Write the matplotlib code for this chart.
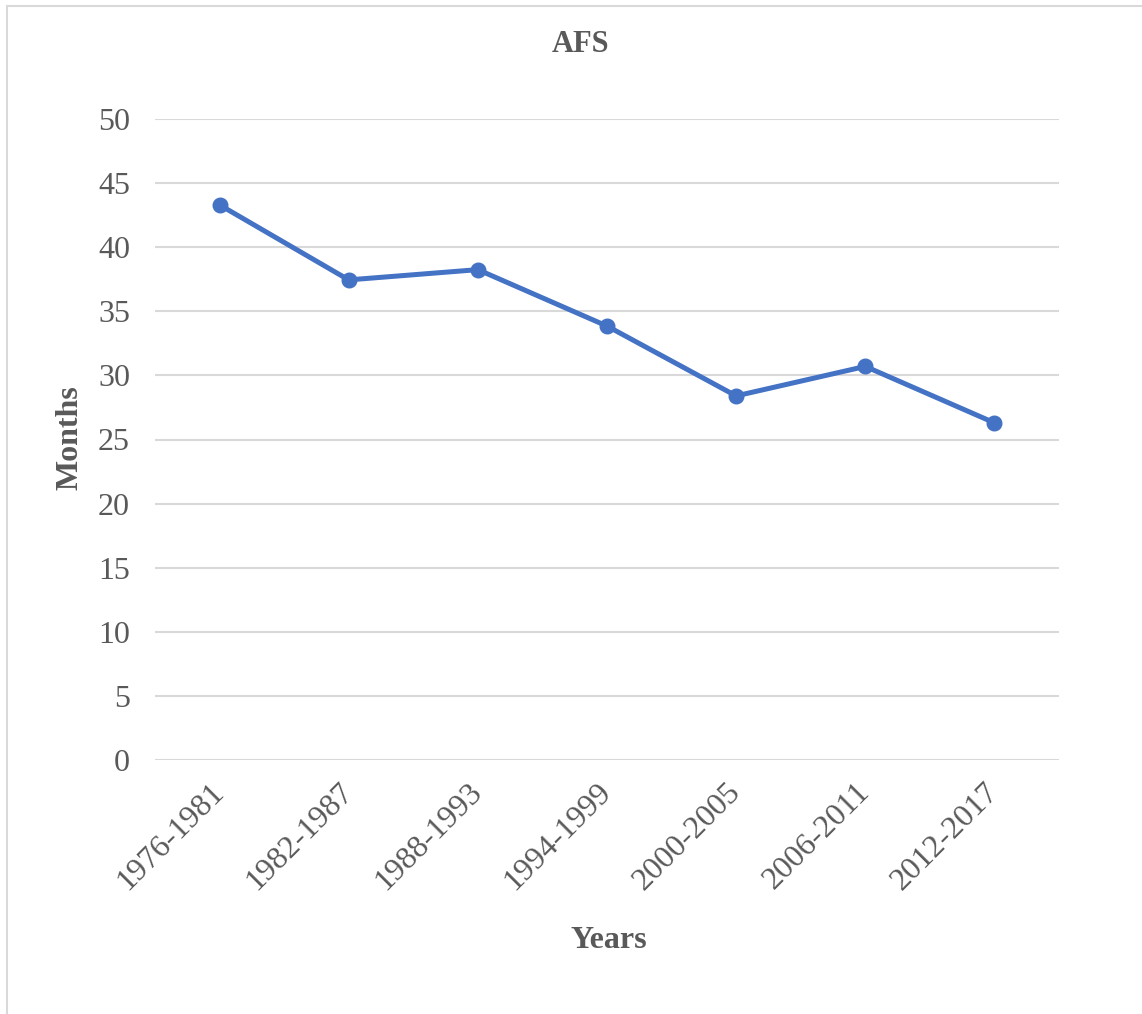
import matplotlib
matplotlib.use("Agg")
import matplotlib.pyplot as plt
from matplotlib.patches import Rectangle

# ---- data ----
periods = ["1976-1981", "1982-1987", "1988-1993", "1994-1999",
           "2000-2005", "2006-2011", "2012-2017"]
months = [43.3, 37.45, 38.25, 33.85, 28.4, 30.7, 26.3]
yticks = [0, 5, 10, 15, 20, 25, 30, 35, 40, 45, 50]

TXT = "#595959"
GRID = "#d9d9d9"
BLUE = "#4472C4"
plt.rcParams["font.family"] = ["Liberation Serif", "DejaVu Serif"]

W, H = 1142, 1014
fig = plt.figure(figsize=(W / 100, H / 100), dpi=100)
fig.patch.set_facecolor("white")
# chart area border (light gray, cut at right/bottom)
fig.patches.append(Rectangle((7 / W, -0.01), 1.2, 1 - 6 / H + 0.01, transform=fig.transFigure,
                             fill=False, edgecolor=GRID, linewidth=1.5))

ax = fig.add_axes([155 / W, 1 - 760 / H, (1059 - 155) / W, (760 - 119) / H])
x = list(range(len(periods)))
ax.plot(x, months, color=BLUE, linewidth=3.6, marker="o", markersize=10.5,
        solid_capstyle="round", zorder=3)
ax.set_xlim(-0.5, len(periods) - 0.5)
ax.set_ylim(0, 50)
ax.set_yticks(yticks)
ax.set_xticks(x)
ax.set_xticklabels(periods, rotation=45, ha="right", rotation_mode="anchor", va="center")
ax.tick_params(axis="both", length=0, labelsize=23, labelcolor=TXT)
ax.tick_params(axis="y", pad=18)
ax.tick_params(axis="x", pad=20)
ax.grid(axis="y", color=GRID, linewidth=1.5)
ax.set_axisbelow(True)
for s in ax.spines.values():
    s.set_visible(False)

fig.text(581 / W, 1 - 45 / H, "AFS", ha="center", va="center",
         fontsize=22, fontweight="bold", color=TXT)
fig.text(70 / W, 1 - 438 / H, "Months", ha="center", va="center", rotation=90,
         fontsize=23, fontweight="bold", color=TXT)
fig.text(609 / W, 1 - 940 / H, "Years", ha="center", va="center",
         fontsize=23, fontweight="bold", color=TXT)

fig.savefig("out.png", dpi=100)
